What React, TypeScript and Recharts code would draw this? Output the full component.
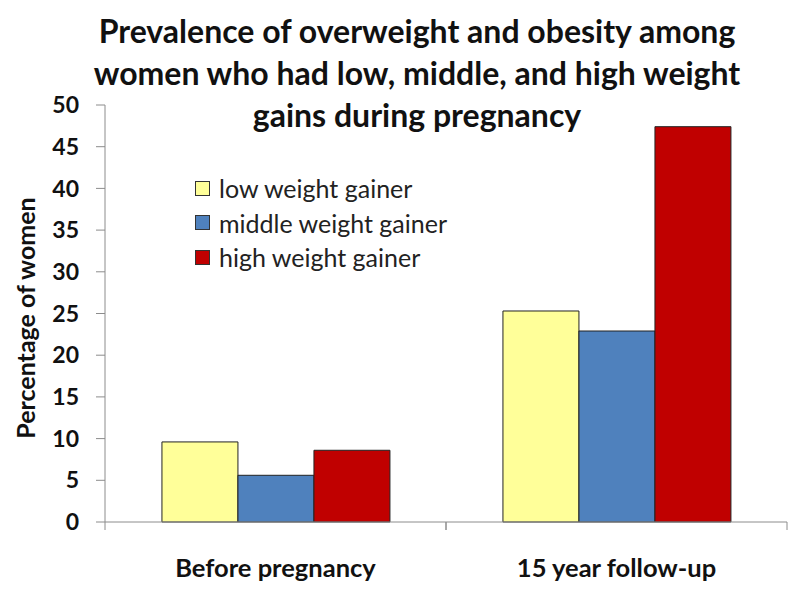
import React from "react";
import { BarChart, Bar, XAxis, YAxis } from "recharts";

const categories = ["Before pregnancy", "15 year follow-up"];
const lowGainer = [9.6, 25.3];
const middleGainer = [5.6, 22.9];
const highGainer = [8.6, 47.4];
const yTicks = [0, 5, 10, 15, 20, 25, 30, 35, 40, 45, 50];

const seriesKeys = ["low", "middle", "high"];
const seriesNames = ["low weight gainer", "middle weight gainer", "high weight gainer"];
const seriesColors = ["#FFFF99", "#4F81BD", "#C00000"];

const titleLines = [
  "Prevalence of overweight and obesity among",
  "women who had low, middle, and high weight",
  "gains during pregnancy",
];

const data = categories.map((name, i) => ({
  name,
  low: lowGainer[i],
  middle: middleGainer[i],
  high: highGainer[i],
}));

const W = 800;
const H = 595;
const MARGIN = { top: 105, right: 13, bottom: 0, left: 0 };
const Y_AXIS_W = 105;
const X_AXIS_H = 73;
const BAND = (W - MARGIN.right - Y_AXIS_W) / categories.length;
const FONT = "Lato, 'Open Sans', sans-serif";
const AXIS_COLOR = "#8c8c8c";

function CategoryTick(props: any) {
  const { x, y, payload } = props;
  const half = BAND / 2;
  return (
    <g>
      <line x1={x - half} x2={x - half} y1={y} y2={y + 8} stroke={AXIS_COLOR} />
      <line x1={x + half} x2={x + half} y1={y} y2={y + 8} stroke={AXIS_COLOR} />
      <text
        x={x}
        y={y + 55}
        textAnchor="middle"
        fontFamily={FONT}
        fontWeight="bold"
        fontSize={25.5}
        fill="#111"
      >
        {payload.value}
      </text>
    </g>
  );
}

function LegendBox() {
  return (
    <div
      style={{
        position: "absolute",
        left: 195,
        top: 171,
        fontFamily: FONT,
        fontSize: 25,
        color: "#222",
      }}
    >
      {seriesNames.map((n, i) => (
        <div key={n} style={{ display: "flex", alignItems: "center", height: 34.5 }}>
          <span
            style={{
              display: "inline-block",
              width: 13,
              height: 13,
              background: seriesColors[i],
              border: "1px solid #333",
              marginRight: 9,
            }}
          />
          {n}
        </div>
      ))}
    </div>
  );
}

export default function App() {
  return (
    <div style={{ position: "absolute", left: 0, top: 0, width: W, height: H, background: "#fff" }}>
      <BarChart width={W} height={H} data={data} margin={MARGIN} barCategoryGap="16.7%" barGap={0}>
        <XAxis
          dataKey="name"
          height={X_AXIS_H}
          stroke={AXIS_COLOR}
          tickLine={false}
          tickSize={0}
          tickMargin={0}
          tick={<CategoryTick />}
          interval={0}
        />
        <YAxis
          width={Y_AXIS_W}
          domain={[0, 50]}
          ticks={yTicks}
          interval={0}
          stroke={AXIS_COLOR}
          tickSize={9}
          tickMargin={17}
          tick={{ fill: "#111", fontFamily: FONT, fontWeight: "bold", fontSize: 23 }}
          label={{
            content: () => (
              <text
                x={25}
                y={318}
                transform="rotate(-90 25 318)"
                textAnchor="middle"
                dominantBaseline="central"
                fontFamily={FONT}
                fontWeight="bold"
                fontSize={25}
                fill="#111"
              >
                Percentage of women
              </text>
            ),
          }}
        />
        {seriesKeys.map((k, i) => (
          <Bar
            key={k}
            dataKey={k}
            name={seriesNames[i]}
            fill={seriesColors[i]}
            stroke="#222"
            strokeWidth={1}
            isAnimationActive={false}
          />
        ))}
      </BarChart>
      <LegendBox />
      <div
        style={{
          position: "absolute",
          left: 0,
          top: 10,
          width: 834,
          textAlign: "center",
          fontFamily: FONT,
          fontWeight: "bold",
          fontSize: 32,
          lineHeight: "42px",
          color: "#111",
          pointerEvents: "none",
        }}
      >
        {titleLines.map((t) => (
          <div key={t}>{t}</div>
        ))}
      </div>
    </div>
  );
}
